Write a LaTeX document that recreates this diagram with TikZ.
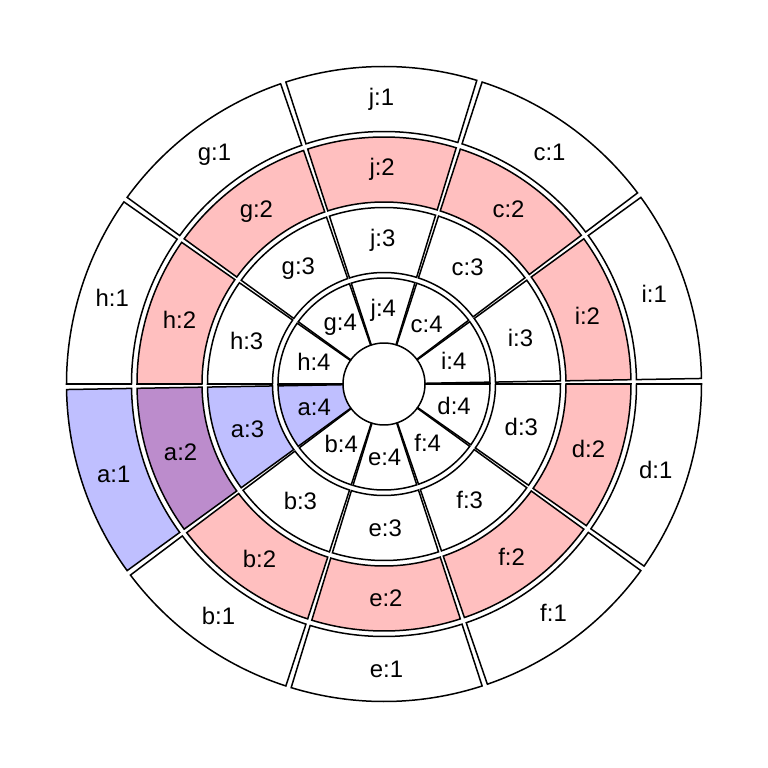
\documentclass[tikz,border=0pt]{standalone}
\usepackage{fontspec}
\setmainfont{Liberation Sans}
\definecolor{ringPink}{HTML}{FFBFBF}
\definecolor{ringBlue}{HTML}{BFBFFF}
\definecolor{ringPurple}{HTML}{BC8CCC}

\begin{document}
\begin{tikzpicture}[x=1bp, y=1bp,
    sector/.style={draw=black, fill=white, line width=1.5bp},
    ring 2/.style={fill=ringPink},
    cell a1/.style={fill=ringBlue},
    cell a2/.style={fill=ringPurple},
    cell a3/.style={fill=ringBlue},
    cell a4/.style={fill=ringBlue},
    lbl/.style={font=\fontsize{24}{28}\selectfont, inner sep=0pt},
  ]
  \useasboundingbox (-384,-384) rectangle (384,384);

  % four rings of ten sectors, outer ring first
  \foreach \ring/\rin in {1/252.5, 2/182, 3/111.5, 4/41} {
    \foreach \name [count=\k from 0] in {a,b,e,f,d,i,c,j,g,h} {
      \pgfmathsetmacro{\tA}{181+36*\k}
      \pgfmathsetmacro{\tB}{216+36*\k}
      \pgfmathsetmacro{\rout}{\rin+65}
      \path[sector, ring \ring/.try, cell \name\ring/.try]
        (\tA:\rin) arc[start angle=\tA, end angle=\tB, radius=\rin]
        -- (\tB:\rout) arc[start angle=\tB, end angle=\tA, radius=\rout] -- cycle;
      \node[lbl] (\name\ring) at ({198.5+36*\k}:{\rin+32.5}) {\name:\ring};
    }
  }
\end{tikzpicture}
\end{document}
